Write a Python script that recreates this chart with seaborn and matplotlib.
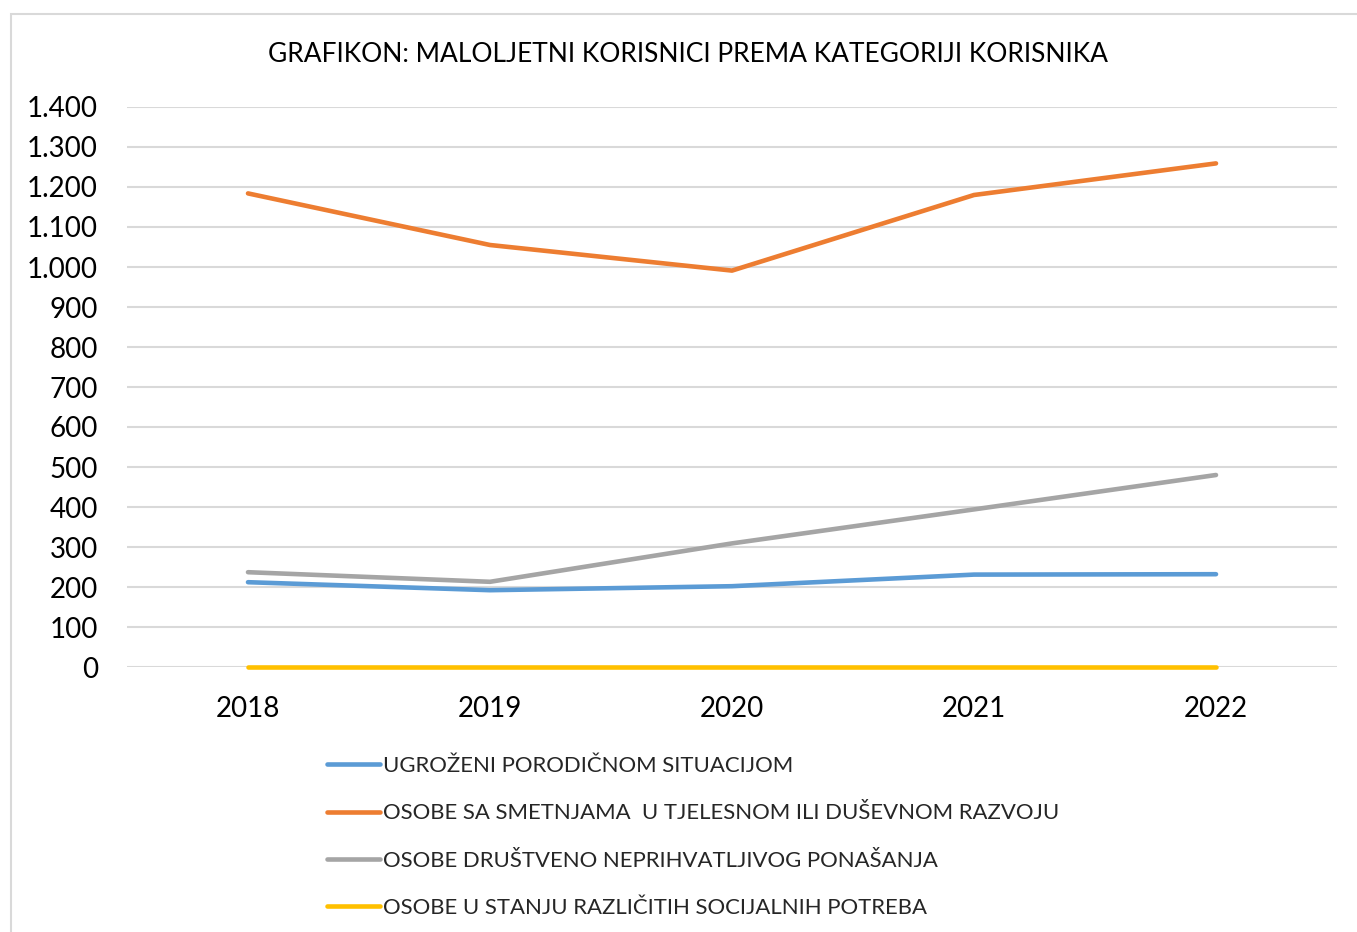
import pandas as pd
import numpy as np
import matplotlib
matplotlib.use("Agg")
import matplotlib.pyplot as plt
import matplotlib.ticker as mticker
from matplotlib.patches import Rectangle
import seaborn as sns

godine = ["2018", "2019", "2020", "2021", "2022"]
kategorije = [
    "UGROŽENI PORODIČNOM SITUACIJOM",
    "OSOBE SA SMETNJAMA  U TJELESNOM ILI DUŠEVNOM RAZVOJU",
    "OSOBE DRUŠTVENO NEPRIHVATLJIVOG PONAŠANJA",
    "OSOBE U STANJU RAZLIČITIH SOCIJALNIH POTREBA",
]
ugrozeni = [212, 192, 202, 231, 232]
smetnje = [1184, 1055, 991, 1180, 1259]
drustveno = [237, 213, 309, 394, 480]
socijalne = [0, 0, 0, 0, 0]
boje = ["#5B9BD5", "#ED7D31", "#A5A5A5", "#FFC000"]

df = pd.DataFrame({
    "godina": np.tile(np.arange(len(godine)), 4),
    "vrijednost": ugrozeni + smetnje + drustveno + socijalne,
    "kategorija": np.repeat(kategorije, len(godine)),
})

sns.set_theme(style="white")
plt.rcParams["font.family"] = ["Lato", "DejaVu Sans"]

W, H = 1357, 932
fig = plt.figure(figsize=(W / 100, H / 100), dpi=100)
ax = fig.add_axes([127 / W, 1 - 667 / H, 1210 / W, 560 / H])

sns.lineplot(data=df, x="godina", y="vrijednost", hue="kategorija",
             hue_order=kategorije, palette=boje, linewidth=3.3,
             ax=ax, legend=True, solid_capstyle="round", zorder=3)
for ln in ax.get_lines():
    ln.set_clip_on(False)

ax.set_xlim(-0.5, 4.5)
ax.set_ylim(0, 1400)
ax.set_yticks(range(0, 1401, 100))
ax.yaxis.set_major_formatter(mticker.FuncFormatter(lambda v, p: f"{v:,.0f}".replace(",", ".")))
ax.set_xticks(range(len(godine)))
ax.set_xticklabels(godine)
ax.tick_params(axis="both", labelsize=20, colors="#000000", length=0)
ax.tick_params(axis="x", pad=21)
ax.tick_params(axis="y", pad=21)
ax.grid(axis="y", color="#d9d9d9", linewidth=1.5, zorder=0)
ax.set_xlabel("")
ax.set_ylabel("")
for s in ax.spines.values():
    s.set_visible(False)

handles, labels = ax.get_legend_handles_labels()
ax.legend_.remove()
for h in handles:
    h.set_linewidth(3.3)
fig.legend(handles, labels, loc="upper left",
           bbox_to_anchor=(327 / W, 1 - 756 / H), frameon=False,
           fontsize=15.9, handlelength=2.4, handletextpad=0.12,
           labelspacing=1.24, borderpad=0, borderaxespad=0)

fig.text(688 / W, 1 - 55 / H,
         "GRAFIKON: MALOLJETNI KORISNICI PREMA KATEGORIJI KORISNIKA",
         ha="center", va="center", fontsize=19, color="#000000")

fig.patches.append(Rectangle((11 / W, -0.05), 1.1, 1 - 14 / H + 0.05,
                             transform=fig.transFigure, fill=False,
                             edgecolor="#d9d9d9", linewidth=1.5))

fig.savefig("out.png", dpi=100, facecolor="white")
